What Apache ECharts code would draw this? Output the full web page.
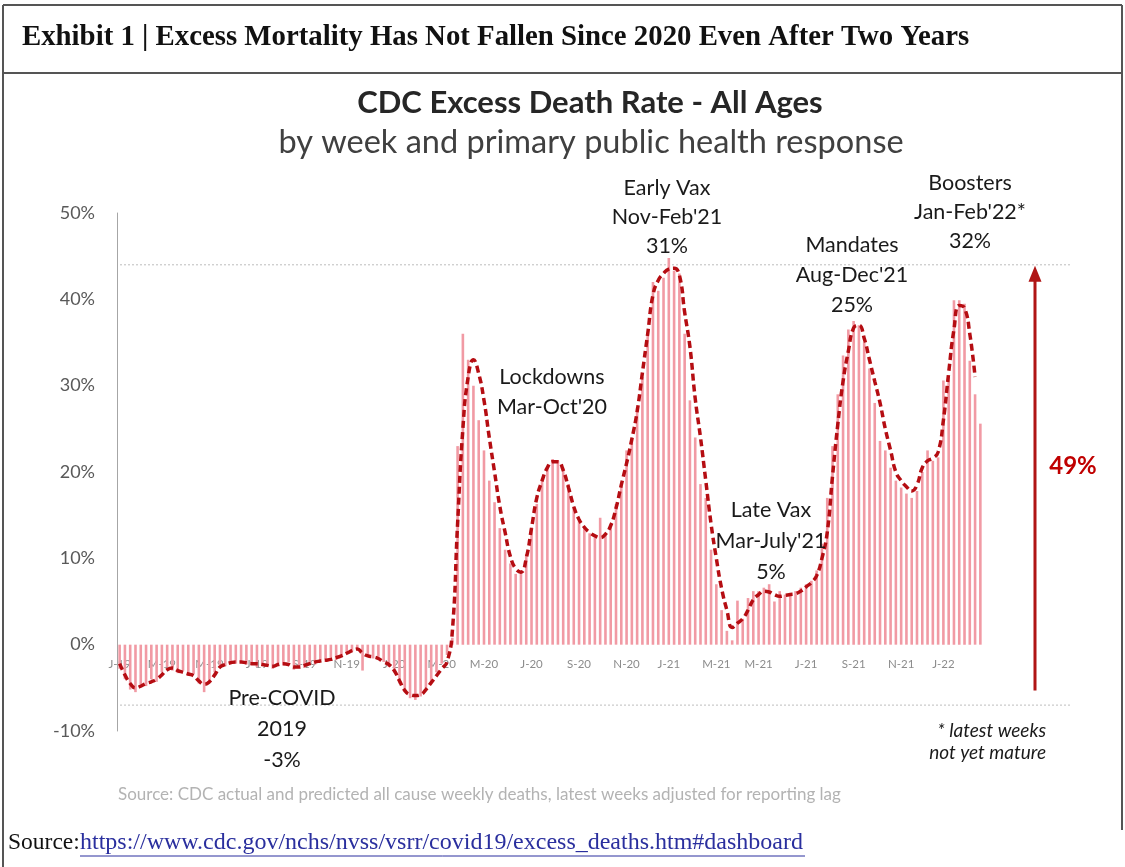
<!DOCTYPE html>
<html>
<head>
<meta charset="utf-8">
<script src="https://cdn.jsdelivr.net/npm/echarts@6/dist/echarts.min.js"></script>
<style>
  html, body { margin: 0; padding: 0; background: #fff; }
  #chart { width: 1125px; height: 867px; }
</style>
</head>
<body>
<div id="chart"></div>
<script>
// weekly series, first week ends Sat 5 Jan 2019
const firstWeek = Date.UTC(2019, 0, 5);

const tickLabels = ['J-19', 'M-19', 'M-19', 'J-19', 'S-19', 'N-19',
  'J-20', 'M-20', 'M-20', 'J-20', 'S-20', 'N-20',
  'J-21', 'M-21', 'M-21', 'J-21', 'S-21', 'N-21', 'J-22'];

// excess death rate by week, % (bars)
const excessPct = [
  -2.8, -4.0, -5.2, -5.5, -4.6, -4.8, -4.0, -4.3, -3.2, -2.6,
  -3.0, -3.3, -3.0, -3.6, -3.4, -4.5, -5.5, -4.2, -3.2, -2.4,
  -2.5, -1.9, -2.2, -2.0, -2.3, -2.1, -2.6, -2.2, -2.5, -2.8,
  -2.2, -2.4, -2.0, -2.9, -2.5, -2.7, -2.1, -2.3, -1.8, -2.0,
  -1.5, -1.8, -1.2, -0.9, -0.8, -0.6, -3.0, -1.2, -1.6, -1.4,
  -2.0, -2.6, -3.2, -4.5, -5.5, -6.2, -6.4, -6.0, -5.0, -4.2,
  -3.2, -2.2, -1.2, 0.8, 23.0, 36.0, 33.0, 30.0, 26.0, 22.5,
  19.0, 16.5, 13.5, 11.0, 9.4, 8.2, 8.6, 10.5, 13.6, 16.3,
  19.0, 20.5, 21.5, 21.3, 20.5, 18.6, 15.9, 14.4, 13.6, 12.9,
  12.4, 14.7, 12.9, 14.0, 16.3, 18.6, 22.5, 24.0, 27.5, 31.0,
  36.0, 42.0, 41.0, 42.5, 44.8, 43.3, 43.0, 36.0, 28.3, 24.0,
  18.6, 17.0, 11.0, 7.0, 4.0, 1.6, 0.5, 5.1, 3.0, 5.4,
  6.2, 6.2, 6.6, 7.0, 5.0, 6.2, 5.8, 5.8, 6.2, 6.6,
  7.0, 7.4, 8.6, 11.7, 17.0, 23.0, 29.0, 33.5, 36.5, 37.5,
  37.0, 35.0, 32.0, 28.0, 23.6, 22.5, 20.5, 19.0, 18.2, 17.5,
  17.0, 17.8, 20.0, 22.5, 21.3, 21.7, 30.6, 31.0, 39.9, 39.9,
  39.5, 32.9, 29.0, 25.6
];

// smoothed trend, % (dashed line)
const trendPct = [
  -2.2, -3.5, -4.5, -5.0, -4.8, -4.5, -4.3, -4.0, -3.5, -2.9,
  -2.7, -3.0, -3.2, -3.4, -3.6, -4.2, -4.6, -4.3, -3.5, -2.6,
  -2.3, -2.1, -2.0, -2.0, -2.1, -2.2, -2.2, -2.3, -2.4, -2.5,
  -2.3, -2.2, -2.3, -2.6, -2.6, -2.4, -2.2, -2.0, -1.9, -1.8,
  -1.7, -1.5, -1.3, -1.0, -0.7, -0.5, -1.0, -1.3, -1.4, -1.6,
  -2.0, -2.3, -3.0, -4.2, -5.3, -5.8, -5.9, -5.8, -5.2, -4.4,
  -3.6, -2.8, -2.0, 1.5, 14.0, 25.0, 31.0, 33.0, 31.4, 28.3,
  24.0, 20.0, 16.0, 13.0, 10.2, 8.8, 8.4, 10.0, 13.5, 17.0,
  19.0, 20.5, 21.2, 21.2, 20.2, 18.2, 16.0, 14.5, 13.6, 13.0,
  12.6, 12.4, 12.8, 13.8, 15.8, 18.5, 21.0, 23.8, 27.0, 31.5,
  36.0, 40.5, 42.2, 43.0, 43.5, 43.6, 42.8, 38.5, 34.5, 28.5,
  24.0, 19.0, 14.0, 10.0, 6.5, 4.0, 2.0, 2.5, 3.0, 4.0,
  5.2, 5.8, 6.2, 6.1, 5.8, 5.6, 5.7, 5.8, 5.9, 6.2,
  6.7, 7.2, 8.0, 10.0, 13.0, 19.5, 25.5, 30.5, 34.0, 36.7,
  37.0, 35.5, 33.0, 30.5, 28.0, 25.0, 22.5, 20.0, 19.0, 18.3,
  17.8, 18.5, 20.5, 21.3, 21.6, 22.3, 26.0, 31.5, 36.5, 39.3,
  39.0, 36.0, 31.0, null
];

const refHigh = 44;   // dotted guide lines
const refLow = -7;

const weeks = [];
for (let i = 0; i < excessPct.length; i++) {
  weeks.push(new Date(firstWeek + i * 7 * 86400000).toISOString().slice(0, 10));
}

// label the first week of every other month
const tickAt = {};
let k = 0;
weeks.forEach(function (w, i) {
  const d = new Date(w);
  if (d.getUTCMonth() % 2 === 0 && d.getUTCDate() <= 7 && k < tickLabels.length) {
    tickAt[i] = tickLabels[k++];
  }
});

const sans = 'Lato, "Open Sans", sans-serif';
const serif = '"Liberation Serif", serif';
const gridTop = 213, gridHeight = 518;
const chart = echarts.init(document.getElementById('chart'), null, { renderer: 'canvas' });

chart.setOption({
  animation: false,
  backgroundColor: '#fff',
  grid: { left: 117, top: gridTop, width: 866, height: gridHeight },
  xAxis: {
    type: 'category',
    data: weeks,
    axisLine: { show: false },
    axisTick: { show: false },
    axisLabel: {
      interval: function (i) { return i in tickAt; },
      formatter: function (v, i) { return tickAt[i] || ''; },
      color: '#8c8c8c', fontSize: 11.5, fontFamily: sans, margin: 14
    }
  },
  yAxis: {
    type: 'value', min: -10, max: 50, interval: 10,
    axisLine: { show: true, lineStyle: { color: '#a6a6a6', width: 1 } },
    axisTick: { show: false },
    splitLine: { show: false },
    axisLabel: { formatter: '{value}%', color: '#595959', fontSize: 18, fontFamily: sans, margin: 22 }
  },
  series: [
    {
      type: 'bar', data: excessPct, barWidth: 2.6,
      itemStyle: { color: '#f19aa4' }, z: 2
    },
    {
      type: 'line', data: trendPct, smooth: true, symbol: 'none',
      lineStyle: { color: '#b50d12', width: 3.5, type: [7, 4] }, z: 3
    }
  ]
});

function label(text, x, y, o) {
  o = o || {};
  return {
    type: 'text', x: x, y: y, z: 10,
    style: {
      text: text, fill: o.fill || '#1a1a1a',
      font: (o.style || '') + ' ' + (o.weight || 'normal') + ' ' + (o.size || 21.5) + 'px ' + (o.family || sans),
      align: o.align || 'center', verticalAlign: 'middle', lineHeight: o.lh || 29
    }
  };
}

const yZero = chart.convertToPixel({ yAxisIndex: 0 }, 0);
const yHigh = chart.convertToPixel({ yAxisIndex: 0 }, refHigh);
const yLow = chart.convertToPixel({ yAxisIndex: 0 }, refLow);
const arrowBase = chart.convertToPixel({ yAxisIndex: 0 }, -5.3);
const frameColor = '#555';
const arrowColor = '#b01515';

chart.setOption({
  // month labels sit just under the zero line
  xAxis: { offset: yZero - (gridTop + gridHeight) },
  graphic: [
    // frame
    { type: 'line', shape: { x1: 3, y1: 5, x2: 1122, y2: 5 }, style: { stroke: frameColor, lineWidth: 2 } },
    { type: 'line', shape: { x1: 3, y1: 73, x2: 1122, y2: 73 }, style: { stroke: frameColor, lineWidth: 2 } },
    { type: 'line', shape: { x1: 3, y1: 5, x2: 3, y2: 867 }, style: { stroke: frameColor, lineWidth: 2 } },
    { type: 'line', shape: { x1: 1122, y1: 5, x2: 1122, y2: 830 }, style: { stroke: frameColor, lineWidth: 2 } },
    label('Exhibit 1 | Excess Mortality Has Not Fallen Since 2020 Even After Two Years', 22, 38,
      { align: 'left', weight: 'bold', size: 28.8, family: serif, fill: '#111' }),

    // chart titles
    label('CDC Excess Death Rate - All Ages', 590, 103, { weight: 'bold', size: 31, fill: '#262626' }),
    label('by week and primary public health response', 591, 143, { size: 32.5, fill: '#404040' }),

    // guide lines
    { type: 'line', shape: { x1: 120, y1: yHigh, x2: 1070, y2: yHigh }, style: { stroke: '#bdbdbd', lineWidth: 1, lineDash: [2, 2] } },
    { type: 'line', shape: { x1: 120, y1: yLow, x2: 1070, y2: yLow }, style: { stroke: '#bdbdbd', lineWidth: 1, lineDash: [2, 2] } },

    // arrow
    { type: 'line', shape: { x1: 1035, y1: arrowBase, x2: 1035, y2: yHigh + 14 }, style: { stroke: arrowColor, lineWidth: 3 } },
    { type: 'polygon', shape: { points: [[1035, yHigh + 1], [1028.5, yHigh + 17], [1041.5, yHigh + 17]] }, style: { fill: arrowColor } },
    label('49%', 1073, 466, { weight: 'bold', size: 24, fill: '#c00000' }),

    // period annotations
    label('Early Vax\nNov-Feb\'21\n31%', 667, 217),
    label('Boosters\nJan-Feb\'22*\n32%', 970, 212),
    label('Mandates\nAug-Dec\'21\n25%', 852, 275, { lh: 30 }),
    label('Lockdowns\nMar-Oct\'20', 552, 392, { lh: 30 }),
    label('Late Vax\nMar-July\'21\n5%', 771, 541, { lh: 31 }),
    label('Pre-COVID\n2019\n-3%', 282, 729, { lh: 31 }),
    label('* latest weeks\nnot yet mature', 1046, 742, { align: 'right', style: 'italic', size: 19, lh: 22 }),

    // sources
    label('Source: CDC actual and predicted all cause weekly deaths, latest weeks adjusted for reporting lag', 118, 795,
      { align: 'left', size: 17, fill: '#b3b3b3' }),
    label('Source:', 8, 843, { align: 'left', size: 23.5, family: serif, fill: '#111' }),
    label('https://www.cdc.gov/nchs/nvss/vsrr/covid19/excess_deaths.htm#dashboard', 80, 843,
      { align: 'left', size: 24, family: serif, fill: '#2a2f9e' }),
    { type: 'line', shape: { x1: 80, y1: 856, x2: 805, y2: 856 }, style: { stroke: '#2a2f9e', lineWidth: 1 } }
  ]
});
</script>
</body>
</html>
